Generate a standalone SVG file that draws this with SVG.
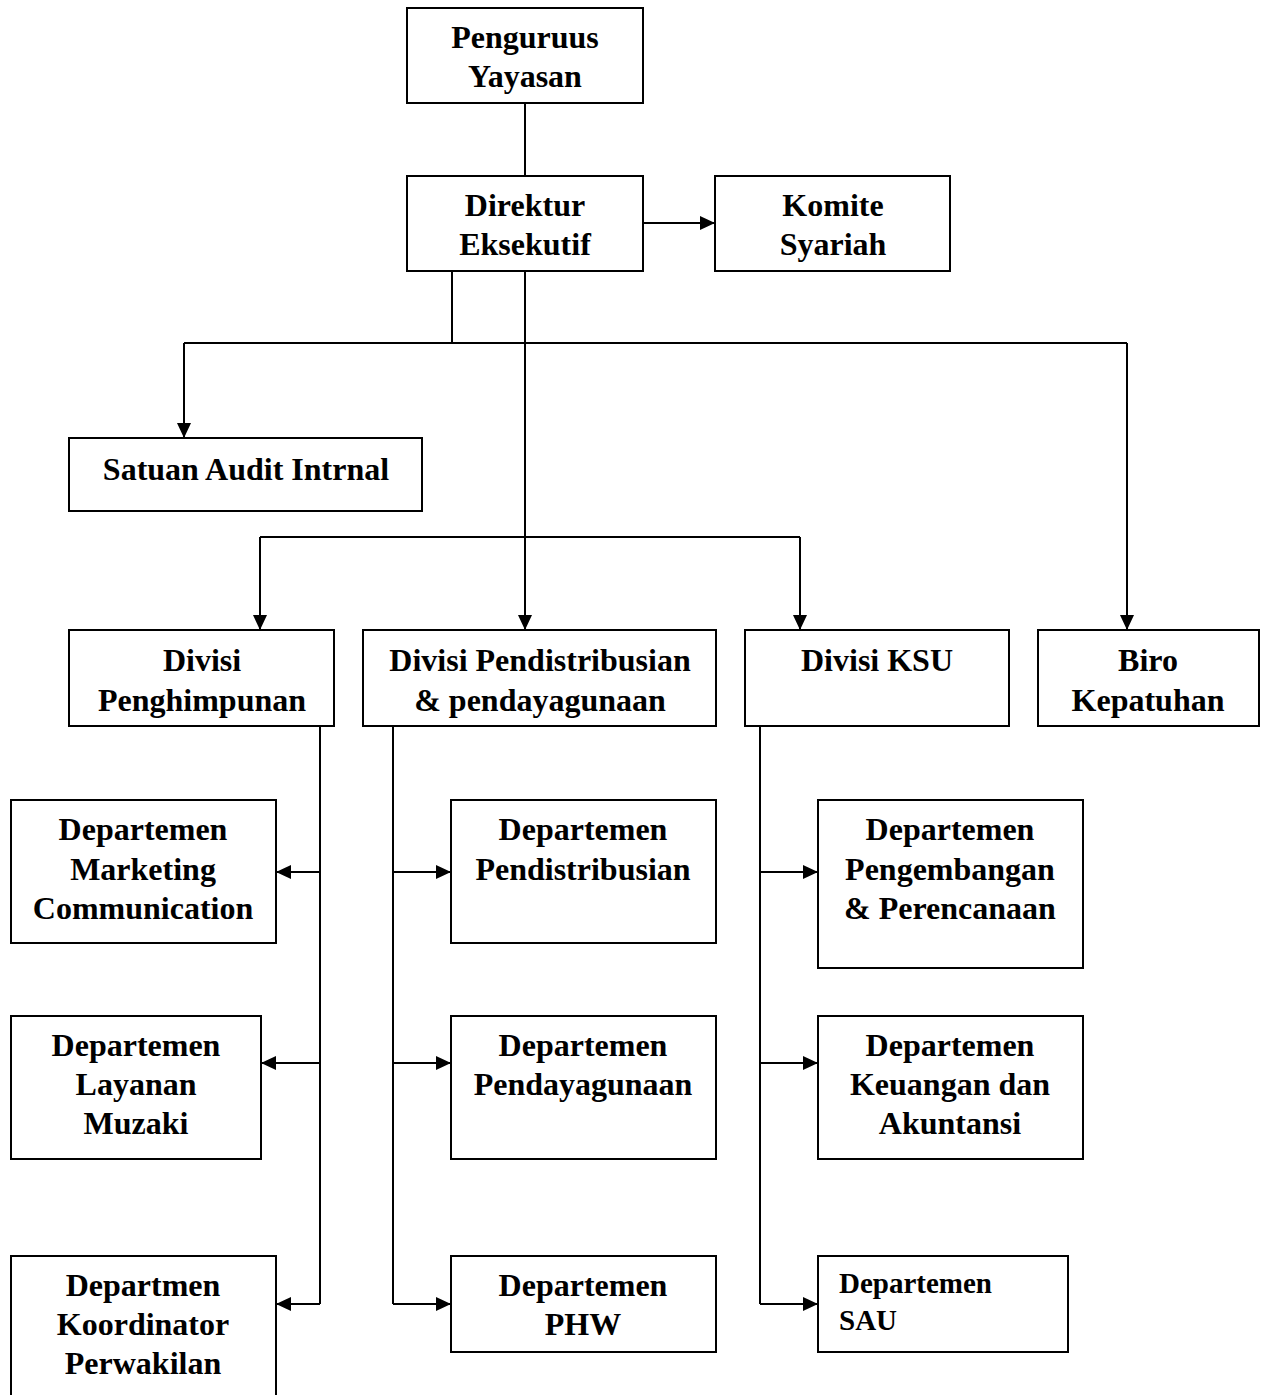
<svg xmlns="http://www.w3.org/2000/svg" width="1262" height="1395" viewBox="0 0 1262 1395">
<style>
.box{fill:#fff;stroke:#000;stroke-width:2}
.t{font-family:"Liberation Serif","Times New Roman",serif;font-weight:bold;font-size:32px;fill:#000;text-anchor:middle}
.s{font-family:"Liberation Serif","Times New Roman",serif;font-weight:bold;font-size:29px;fill:#000}
.c{fill:none;stroke:#000;stroke-width:2}
</style>
<defs>
<marker id="ah" markerUnits="userSpaceOnUse" markerWidth="15" markerHeight="14" refX="15" refY="7" orient="auto">
<path d="M0,0 L15,7 L0,14 z" fill="#000"/>
</marker>
</defs>
<rect width="1262" height="1395" fill="#fff"/>
<g id="connectors">
<path class="c" d="M525,103 V176"/>
<path class="c" d="M643,223 H715" marker-end="url(#ah)"/>
<path class="c" d="M452,271 V343"/>
<path class="c" d="M184,343 H1127"/>
<path class="c" d="M184,343 V438" marker-end="url(#ah)"/>
<path class="c" d="M1127,343 V630" marker-end="url(#ah)"/>
<path class="c" d="M525,271 V630" marker-end="url(#ah)"/>
<path class="c" d="M260,537 H800"/>
<path class="c" d="M260,537 V630" marker-end="url(#ah)"/>
<path class="c" d="M800,537 V630" marker-end="url(#ah)"/>
<path class="c" d="M320,726 V1304"/>
<path class="c" d="M320,872 H276" marker-end="url(#ah)"/>
<path class="c" d="M320,1063 H261" marker-end="url(#ah)"/>
<path class="c" d="M320,1304 H276" marker-end="url(#ah)"/>
<path class="c" d="M393,726 V1304"/>
<path class="c" d="M393,872 H451" marker-end="url(#ah)"/>
<path class="c" d="M393,1063 H451" marker-end="url(#ah)"/>
<path class="c" d="M393,1304 H451" marker-end="url(#ah)"/>
<path class="c" d="M760,726 V1304"/>
<path class="c" d="M760,872 H818" marker-end="url(#ah)"/>
<path class="c" d="M760,1063 H818" marker-end="url(#ah)"/>
<path class="c" d="M760,1304 H818" marker-end="url(#ah)"/>
</g>
<g id="pengurus"><rect class="box" x="407" y="8" width="236" height="95"/>
<text class="t" x="525" y="48">Penguruus</text><text class="t" x="525" y="87">Yayasan</text></g>
<g id="direktur"><rect class="box" x="407" y="176" width="236" height="95"/>
<text class="t" x="525" y="216">Direktur</text><text class="t" x="525" y="255">Eksekutif</text></g>
<g id="komite"><rect class="box" x="715" y="176" width="235" height="95"/>
<text class="t" x="833" y="216">Komite</text><text class="t" x="833" y="255">Syariah</text></g>
<g id="satuan-audit"><rect class="box" x="69" y="438" width="353" height="73"/>
<text class="t" x="246" y="480">Satuan Audit Intrnal</text></g>
<g id="divisi-penghimpunan"><rect class="box" x="69" y="630" width="265" height="96"/>
<text class="t" x="202" y="671">Divisi</text><text class="t" x="202" y="711">Penghimpunan</text></g>
<g id="divisi-pendistribusian"><rect class="box" x="363" y="630" width="353" height="96"/>
<text class="t" x="540" y="671">Divisi Pendistribusian</text><text class="t" x="540" y="711">&amp; pendayagunaan</text></g>
<g id="divisi-ksu"><rect class="box" x="745" y="630" width="264" height="96"/>
<text class="t" x="877" y="671">Divisi KSU</text></g>
<g id="biro-kepatuhan"><rect class="box" x="1038" y="630" width="221" height="96"/>
<text class="t" x="1148" y="671">Biro</text><text class="t" x="1148" y="711">Kepatuhan</text></g>
<g id="dept-marketing"><rect class="box" x="11" y="800" width="265" height="143"/>
<text class="t" x="143" y="840">Departemen</text><text class="t" x="143" y="880">Marketing</text><text class="t" x="143" y="919">Communication</text></g>
<g id="dept-layanan"><rect class="box" x="11" y="1016" width="250" height="143"/>
<text class="t" x="136" y="1056">Departemen</text><text class="t" x="136" y="1095">Layanan</text><text class="t" x="136" y="1134">Muzaki</text></g>
<g id="dept-koordinator"><rect class="box" x="11" y="1256" width="265" height="150"/>
<text class="t" x="143" y="1296">Departmen</text><text class="t" x="143" y="1335">Koordinator</text><text class="t" x="143" y="1374">Perwakilan</text></g>
<g id="dept-pendistribusian"><rect class="box" x="451" y="800" width="265" height="143"/>
<text class="t" x="583" y="840">Departemen</text><text class="t" x="583" y="880">Pendistribusian</text></g>
<g id="dept-pendayagunaan"><rect class="box" x="451" y="1016" width="265" height="143"/>
<text class="t" x="583" y="1056">Departemen</text><text class="t" x="583" y="1095">Pendayagunaan</text></g>
<g id="dept-phw"><rect class="box" x="451" y="1256" width="265" height="96"/>
<text class="t" x="583" y="1296">Departemen</text><text class="t" x="583" y="1335">PHW</text></g>
<g id="dept-pengembangan"><rect class="box" x="818" y="800" width="265" height="168"/>
<text class="t" x="950" y="840">Departemen</text><text class="t" x="950" y="880">Pengembangan</text><text class="t" x="950" y="919">&amp; Perencanaan</text></g>
<g id="dept-keuangan"><rect class="box" x="818" y="1016" width="265" height="143"/>
<text class="t" x="950" y="1056">Departemen</text><text class="t" x="950" y="1095">Keuangan dan</text><text class="t" x="950" y="1134">Akuntansi</text></g>
<g id="dept-sau"><rect class="box" x="818" y="1256" width="250" height="96"/>
<text class="s" x="839" y="1293">Departemen</text><text class="s" x="839" y="1330">SAU</text></g>
</svg>
